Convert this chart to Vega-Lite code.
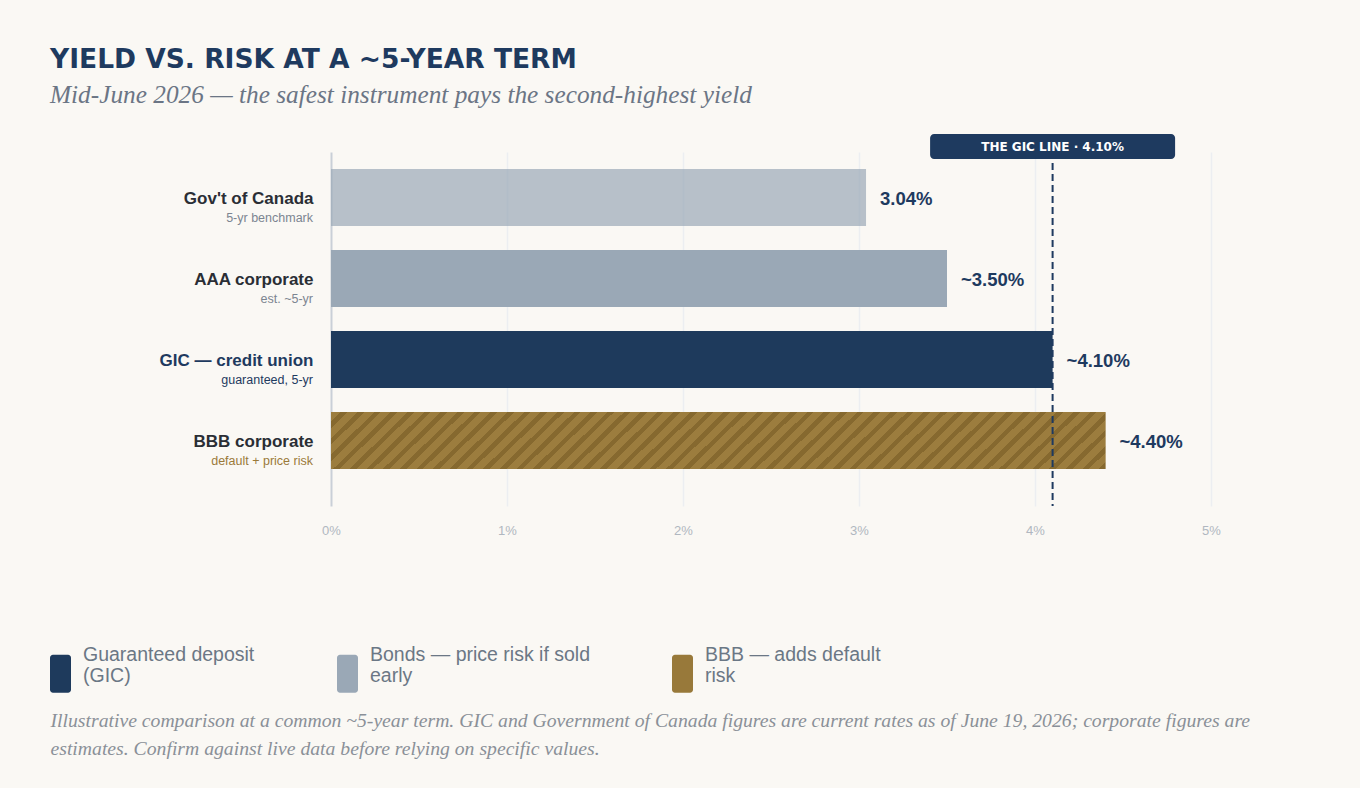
{
  "$schema": "https://vega.github.io/schema/vega-lite/v6.json",
  "width": 880,
  "height": 354,
  "autosize": {"type": "none"},
  "padding": {"left": 331, "top": 152, "right": 149, "bottom": 282},
  "background": "#faf8f4",
  "config": {"view": {"stroke": null}, "font": "Liberation Sans"},
  "title": {
    "text": "YIELD VS. RISK AT A ~5-YEAR TERM",
    "subtitle": "Mid-June 2026 — the safest instrument pays the second-highest yield",
    "anchor": "start",
    "frame": "group",
    "dx": -281,
    "offset": 26,
    "font": "DejaVu Sans",
    "fontSize": 26.5,
    "fontWeight": "bold",
    "color": "#1e3a5f",
    "subtitleFont": "Liberation Serif",
    "subtitleFontStyle": "italic",
    "subtitleFontSize": 25.3,
    "subtitleColor": "#6b7585",
    "subtitlePadding": 9
  },
  "data": {
    "values": [
      {"name": "Gov't of Canada", "sub": "5-yr benchmark", "value": 3.04, "label": "3.04%", "group": "Bonds — price risk if sold early"},
      {"name": "AAA corporate", "sub": "est. ~5-yr", "value": 3.5, "label": "~3.50%", "group": "Bonds — price risk if sold early"},
      {"name": "GIC — credit union", "sub": "guaranteed, 5-yr", "value": 4.1, "label": "~4.10%", "group": "Guaranteed deposit (GIC)"},
      {"name": "BBB corporate", "sub": "default + price risk", "value": 4.4, "label": "~4.40%", "group": "BBB — adds default risk"}
    ]
  },
  "layer": [
    {
      "mark": {"type": "bar"},
      "encoding": {
        "y": {
          "field": "name",
          "type": "nominal",
          "sort": null,
          "scale": {"domain": ["Gov't of Canada", "AAA corporate", "GIC — credit union", "BBB corporate"], "paddingInner": 0.296, "paddingOuter": 0.333, "align": 0.315},
          "axis": {
            "title": null,
            "ticks": false,
            "domain": false,
            "grid": false,
            "labelPadding": 18,
            "labelFont": "Liberation Sans",
            "labelFontSize": 17,
            "labelFontWeight": "bold",
            "labelBaseline": "middle",
            "labelOffset": 1,
            "labelColor": {"condition": {"test": "datum.value === 'GIC — credit union'", "value": "#1e3a5f"}, "value": "#2a2e35"}
          }
        },
        "x": {
          "field": "value",
          "type": "quantitative",
          "scale": {"domain": [0, 5], "nice": false},
          "axis": {
            "values": [0, 1, 2, 3, 4, 5],
            "labelExpr": "datum.value + '%'",
            "labelFlush": false,
            "ticks": false,
            "domain": false,
            "labelPadding": 18,
            "labelFontSize": 13,
            "labelColor": "#b0b7c0",
            "gridColor": {"condition": {"test": "datum.value === 0", "value": "#c9cfd7"}, "value": "#eceef1"},
            "gridWidth": {"condition": {"test": "datum.value === 0", "value": 2}, "value": 1.5},
            "title": ["Illustrative comparison at a common ~5-year term. GIC and Government of Canada figures are current rates as of June 19, 2026; corporate figures are", "estimates. Confirm against live data before relying on specific values."],
            "titleFont": "Liberation Serif",
            "titleFontStyle": "italic",
            "titleFontWeight": "normal",
            "titleFontSize": 19.7,
            "titleColor": "#8a9098",
            "titleAlign": "left",
            "titleAnchor": "start",
            "titleBaseline": "alphabetic",
            "titleX": -281,
            "titleY": 220,
            "titleLineHeight": 28
          }
        },
        "color": {
          "field": "group",
          "type": "nominal",
          "scale": {"domain": ["Guaranteed deposit (GIC)", "Bonds — price risk if sold early", "BBB — adds default risk"], "range": ["#1e3a5c", "#9aa8b6", "#98793a"]},
          "legend": {
            "title": null,
            "orient": "none",
            "direction": "horizontal",
            "columns": 3,
            "columnPadding": 82,
            "legendX": -281,
            "legendY": 492,
            "symbolType": "M-0.714,0 L0.714,0 A0.286,0.286 0 0 1 1,0.286 L1,3.334 A0.286,0.286 0 0 1 0.714,3.62 L-0.714,3.62 A0.286,0.286 0 0 1 -1,3.334 L-1,0.286 A0.286,0.286 0 0 1 -0.714,0 Z",
            "symbolSize": 441,
            "symbolOpacity": 1,
            "symbolStrokeWidth": 0,
            "labelOffset": 12,
            "labelFont": "Liberation Sans",
            "labelFontSize": 19.5,
            "labelColor": "#6b7785",
            "labelLineHeight": 22,
            "labelLimit": 320,
            "labelBaseline": "middle",
            "labelExpr": "datum.label === 'Guaranteed deposit (GIC)' ? ['Guaranteed deposit', '(GIC)'] : datum.label === 'Bonds — price risk if sold early' ? ['Bonds — price risk if sold', 'early'] : ['BBB — adds default', 'risk']"
          }
        },
        "opacity": {"condition": {"test": "datum.name === \"Gov't of Canada\"", "value": 0.7}, "value": 1}
      }
    },
    {
      "transform": [{"filter": "datum.name === 'BBB corporate'"}],
      "mark": {
        "type": "bar",
        "fill": {
          "gradient": "linear",
          "x1": 0, "y1": 0, "x2": 1.069, "y2": 0.0801,
          "stops": [
            {"offset": 0, "color": "#9c7d3e"}, {"offset": 0.012, "color": "#9c7d3e"}, {"offset": 0.012, "color": "#86692f"}, {"offset": 0.02, "color": "#86692f"},
            {"offset": 0.02, "color": "#9c7d3e"}, {"offset": 0.032, "color": "#9c7d3e"}, {"offset": 0.032, "color": "#86692f"}, {"offset": 0.04, "color": "#86692f"},
            {"offset": 0.04, "color": "#9c7d3e"}, {"offset": 0.052, "color": "#9c7d3e"}, {"offset": 0.052, "color": "#86692f"}, {"offset": 0.06, "color": "#86692f"},
            {"offset": 0.06, "color": "#9c7d3e"}, {"offset": 0.072, "color": "#9c7d3e"}, {"offset": 0.072, "color": "#86692f"}, {"offset": 0.08, "color": "#86692f"},
            {"offset": 0.08, "color": "#9c7d3e"}, {"offset": 0.092, "color": "#9c7d3e"}, {"offset": 0.092, "color": "#86692f"}, {"offset": 0.1, "color": "#86692f"},
            {"offset": 0.1, "color": "#9c7d3e"}, {"offset": 0.112, "color": "#9c7d3e"}, {"offset": 0.112, "color": "#86692f"}, {"offset": 0.12, "color": "#86692f"},
            {"offset": 0.12, "color": "#9c7d3e"}, {"offset": 0.132, "color": "#9c7d3e"}, {"offset": 0.132, "color": "#86692f"}, {"offset": 0.14, "color": "#86692f"},
            {"offset": 0.14, "color": "#9c7d3e"}, {"offset": 0.152, "color": "#9c7d3e"}, {"offset": 0.152, "color": "#86692f"}, {"offset": 0.16, "color": "#86692f"},
            {"offset": 0.16, "color": "#9c7d3e"}, {"offset": 0.172, "color": "#9c7d3e"}, {"offset": 0.172, "color": "#86692f"}, {"offset": 0.18, "color": "#86692f"},
            {"offset": 0.18, "color": "#9c7d3e"}, {"offset": 0.192, "color": "#9c7d3e"}, {"offset": 0.192, "color": "#86692f"}, {"offset": 0.2, "color": "#86692f"},
            {"offset": 0.2, "color": "#9c7d3e"}, {"offset": 0.212, "color": "#9c7d3e"}, {"offset": 0.212, "color": "#86692f"}, {"offset": 0.22, "color": "#86692f"},
            {"offset": 0.22, "color": "#9c7d3e"}, {"offset": 0.232, "color": "#9c7d3e"}, {"offset": 0.232, "color": "#86692f"}, {"offset": 0.24, "color": "#86692f"},
            {"offset": 0.24, "color": "#9c7d3e"}, {"offset": 0.252, "color": "#9c7d3e"}, {"offset": 0.252, "color": "#86692f"}, {"offset": 0.26, "color": "#86692f"},
            {"offset": 0.26, "color": "#9c7d3e"}, {"offset": 0.272, "color": "#9c7d3e"}, {"offset": 0.272, "color": "#86692f"}, {"offset": 0.28, "color": "#86692f"},
            {"offset": 0.28, "color": "#9c7d3e"}, {"offset": 0.292, "color": "#9c7d3e"}, {"offset": 0.292, "color": "#86692f"}, {"offset": 0.3, "color": "#86692f"},
            {"offset": 0.3, "color": "#9c7d3e"}, {"offset": 0.312, "color": "#9c7d3e"}, {"offset": 0.312, "color": "#86692f"}, {"offset": 0.32, "color": "#86692f"},
            {"offset": 0.32, "color": "#9c7d3e"}, {"offset": 0.332, "color": "#9c7d3e"}, {"offset": 0.332, "color": "#86692f"}, {"offset": 0.34, "color": "#86692f"},
            {"offset": 0.34, "color": "#9c7d3e"}, {"offset": 0.352, "color": "#9c7d3e"}, {"offset": 0.352, "color": "#86692f"}, {"offset": 0.36, "color": "#86692f"},
            {"offset": 0.36, "color": "#9c7d3e"}, {"offset": 0.372, "color": "#9c7d3e"}, {"offset": 0.372, "color": "#86692f"}, {"offset": 0.38, "color": "#86692f"},
            {"offset": 0.38, "color": "#9c7d3e"}, {"offset": 0.392, "color": "#9c7d3e"}, {"offset": 0.392, "color": "#86692f"}, {"offset": 0.4, "color": "#86692f"},
            {"offset": 0.4, "color": "#9c7d3e"}, {"offset": 0.412, "color": "#9c7d3e"}, {"offset": 0.412, "color": "#86692f"}, {"offset": 0.42, "color": "#86692f"},
            {"offset": 0.42, "color": "#9c7d3e"}, {"offset": 0.432, "color": "#9c7d3e"}, {"offset": 0.432, "color": "#86692f"}, {"offset": 0.44, "color": "#86692f"},
            {"offset": 0.44, "color": "#9c7d3e"}, {"offset": 0.452, "color": "#9c7d3e"}, {"offset": 0.452, "color": "#86692f"}, {"offset": 0.46, "color": "#86692f"},
            {"offset": 0.46, "color": "#9c7d3e"}, {"offset": 0.472, "color": "#9c7d3e"}, {"offset": 0.472, "color": "#86692f"}, {"offset": 0.48, "color": "#86692f"},
            {"offset": 0.48, "color": "#9c7d3e"}, {"offset": 0.492, "color": "#9c7d3e"}, {"offset": 0.492, "color": "#86692f"}, {"offset": 0.5, "color": "#86692f"},
            {"offset": 0.5, "color": "#9c7d3e"}, {"offset": 0.512, "color": "#9c7d3e"}, {"offset": 0.512, "color": "#86692f"}, {"offset": 0.52, "color": "#86692f"},
            {"offset": 0.52, "color": "#9c7d3e"}, {"offset": 0.532, "color": "#9c7d3e"}, {"offset": 0.532, "color": "#86692f"}, {"offset": 0.54, "color": "#86692f"},
            {"offset": 0.54, "color": "#9c7d3e"}, {"offset": 0.552, "color": "#9c7d3e"}, {"offset": 0.552, "color": "#86692f"}, {"offset": 0.56, "color": "#86692f"},
            {"offset": 0.56, "color": "#9c7d3e"}, {"offset": 0.572, "color": "#9c7d3e"}, {"offset": 0.572, "color": "#86692f"}, {"offset": 0.58, "color": "#86692f"},
            {"offset": 0.58, "color": "#9c7d3e"}, {"offset": 0.592, "color": "#9c7d3e"}, {"offset": 0.592, "color": "#86692f"}, {"offset": 0.6, "color": "#86692f"},
            {"offset": 0.6, "color": "#9c7d3e"}, {"offset": 0.612, "color": "#9c7d3e"}, {"offset": 0.612, "color": "#86692f"}, {"offset": 0.62, "color": "#86692f"},
            {"offset": 0.62, "color": "#9c7d3e"}, {"offset": 0.632, "color": "#9c7d3e"}, {"offset": 0.632, "color": "#86692f"}, {"offset": 0.64, "color": "#86692f"},
            {"offset": 0.64, "color": "#9c7d3e"}, {"offset": 0.652, "color": "#9c7d3e"}, {"offset": 0.652, "color": "#86692f"}, {"offset": 0.66, "color": "#86692f"},
            {"offset": 0.66, "color": "#9c7d3e"}, {"offset": 0.672, "color": "#9c7d3e"}, {"offset": 0.672, "color": "#86692f"}, {"offset": 0.68, "color": "#86692f"},
            {"offset": 0.68, "color": "#9c7d3e"}, {"offset": 0.692, "color": "#9c7d3e"}, {"offset": 0.692, "color": "#86692f"}, {"offset": 0.7, "color": "#86692f"},
            {"offset": 0.7, "color": "#9c7d3e"}, {"offset": 0.712, "color": "#9c7d3e"}, {"offset": 0.712, "color": "#86692f"}, {"offset": 0.72, "color": "#86692f"},
            {"offset": 0.72, "color": "#9c7d3e"}, {"offset": 0.732, "color": "#9c7d3e"}, {"offset": 0.732, "color": "#86692f"}, {"offset": 0.74, "color": "#86692f"},
            {"offset": 0.74, "color": "#9c7d3e"}, {"offset": 0.752, "color": "#9c7d3e"}, {"offset": 0.752, "color": "#86692f"}, {"offset": 0.76, "color": "#86692f"},
            {"offset": 0.76, "color": "#9c7d3e"}, {"offset": 0.772, "color": "#9c7d3e"}, {"offset": 0.772, "color": "#86692f"}, {"offset": 0.78, "color": "#86692f"},
            {"offset": 0.78, "color": "#9c7d3e"}, {"offset": 0.792, "color": "#9c7d3e"}, {"offset": 0.792, "color": "#86692f"}, {"offset": 0.8, "color": "#86692f"},
            {"offset": 0.8, "color": "#9c7d3e"}, {"offset": 0.812, "color": "#9c7d3e"}, {"offset": 0.812, "color": "#86692f"}, {"offset": 0.82, "color": "#86692f"},
            {"offset": 0.82, "color": "#9c7d3e"}, {"offset": 0.832, "color": "#9c7d3e"}, {"offset": 0.832, "color": "#86692f"}, {"offset": 0.84, "color": "#86692f"},
            {"offset": 0.84, "color": "#9c7d3e"}, {"offset": 0.852, "color": "#9c7d3e"}, {"offset": 0.852, "color": "#86692f"}, {"offset": 0.86, "color": "#86692f"},
            {"offset": 0.86, "color": "#9c7d3e"}, {"offset": 0.872, "color": "#9c7d3e"}, {"offset": 0.872, "color": "#86692f"}, {"offset": 0.88, "color": "#86692f"},
            {"offset": 0.88, "color": "#9c7d3e"}, {"offset": 0.892, "color": "#9c7d3e"}, {"offset": 0.892, "color": "#86692f"}, {"offset": 0.9, "color": "#86692f"},
            {"offset": 0.9, "color": "#9c7d3e"}, {"offset": 0.912, "color": "#9c7d3e"}, {"offset": 0.912, "color": "#86692f"}, {"offset": 0.92, "color": "#86692f"},
            {"offset": 0.92, "color": "#9c7d3e"}, {"offset": 0.932, "color": "#9c7d3e"}, {"offset": 0.932, "color": "#86692f"}, {"offset": 0.94, "color": "#86692f"},
            {"offset": 0.94, "color": "#9c7d3e"}, {"offset": 0.952, "color": "#9c7d3e"}, {"offset": 0.952, "color": "#86692f"}, {"offset": 0.96, "color": "#86692f"},
            {"offset": 0.96, "color": "#9c7d3e"}, {"offset": 0.972, "color": "#9c7d3e"}, {"offset": 0.972, "color": "#86692f"}, {"offset": 0.98, "color": "#86692f"},
            {"offset": 0.98, "color": "#9c7d3e"}, {"offset": 0.992, "color": "#9c7d3e"}, {"offset": 0.992, "color": "#86692f"}, {"offset": 1, "color": "#86692f"}
          ]
        }
      },
      "encoding": {
        "y": {"field": "name", "type": "nominal", "sort": null},
        "x": {"field": "value", "type": "quantitative"}
      }
    },
    {
      "mark": {"type": "text", "align": "left", "baseline": "middle", "dx": 14, "dy": 1.5, "font": "Liberation Sans", "fontSize": 18.5, "fontWeight": "bold", "color": "#1e3a5f"},
      "encoding": {
        "y": {"field": "name", "type": "nominal", "sort": null},
        "x": {"field": "value", "type": "quantitative"},
        "text": {"field": "label"}
      }
    },
    {
      "mark": {"type": "text", "align": "right", "baseline": "middle", "dx": -18, "dy": 20.5, "font": "Liberation Sans", "fontSize": 12.5},
      "encoding": {
        "y": {"field": "name", "type": "nominal", "sort": null},
        "x": {"datum": 0, "type": "quantitative"},
        "text": {"field": "sub"},
        "color": {
          "condition": [
            {"test": "datum.name === 'GIC — credit union'", "value": "#1e3a5f"},
            {"test": "datum.name === 'BBB corporate'", "value": "#9a7a3a"}
          ],
          "value": "#7c8591"
        }
      }
    },
    {
      "data": {"values": [{"line": 4.1, "anchor": "Gov't of Canada", "tag": "THE GIC LINE · 4.10%"}]},
      "mark": {"type": "rule", "color": "#1e3a5f", "strokeWidth": 2, "strokeDash": [7, 4]},
      "encoding": {
        "x": {"field": "line", "type": "quantitative"}
      }
    },
    {
      "data": {"values": [{"line": 4.1, "anchor": "Gov't of Canada", "tag": "THE GIC LINE · 4.10%"}]},
      "mark": {
        "type": "point",
        "filled": true,
        "opacity": 1,
        "size": 4,
        "color": "#1e3a5f",
        "shape": "M-118.5,-63.5 L118.5,-63.5 A4,4 0 0 1 122.5,-59.5 L122.5,-42.5 A4,4 0 0 1 118.5,-38.5 L-118.5,-38.5 A4,4 0 0 1 -122.5,-42.5 L-122.5,-59.5 A4,4 0 0 1 -118.5,-63.5 Z"
      },
      "encoding": {
        "x": {"field": "line", "type": "quantitative"},
        "y": {"field": "anchor", "type": "nominal", "sort": null}
      }
    },
    {
      "data": {"values": [{"line": 4.1, "anchor": "Gov't of Canada", "tag": "THE GIC LINE · 4.10%"}]},
      "mark": {"type": "text", "align": "center", "baseline": "middle", "dy": -51, "font": "DejaVu Sans", "fontSize": 12, "fontWeight": "bold", "color": "#ffffff"},
      "encoding": {
        "x": {"field": "line", "type": "quantitative"},
        "y": {"field": "anchor", "type": "nominal", "sort": null},
        "text": {"field": "tag"}
      }
    }
  ]
}
